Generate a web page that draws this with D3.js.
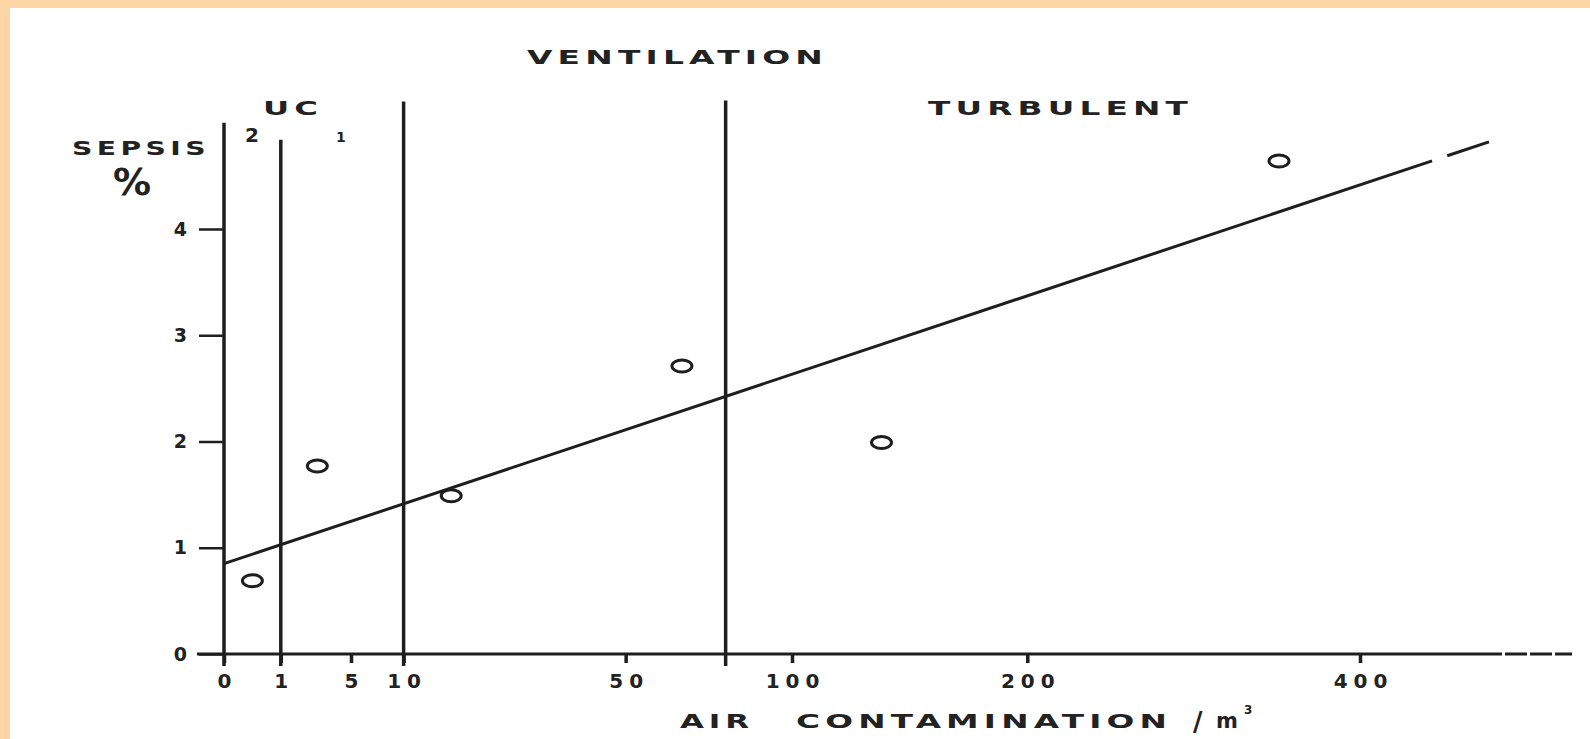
<!DOCTYPE html>
<html>
<head>
<meta charset="utf-8">
<script src="https://cdn.jsdelivr.net/npm/d3@7"></script>
<style>
  body { margin: 0; background: #fed6a6; overflow: hidden; }
  svg { display: block; }
  text { font-family: "DejaVu Sans", sans-serif; font-weight: bold; fill: #222; }
</style>
</head>
<body>
<script>
// values
var xTicks = [0, 1, 5, 10, 50, 100, 200, 400];
var yTicks = [0, 1, 2, 3, 4];
var zoneBounds = [0, 1, 10, 78];          // air count where each vertical line sits
var zoneTops = [5.0, 4.84, 5.2, 5.21];    // how high each line reaches (sepsis %)
var airCount = [0.25, 2.7, 16, 65, 134, 345];
var sepsisPct = [0.69, 1.77, 1.49, 2.71, 1.99, 4.64];
var trendX = [0, 496];
var trendY = [0.85, 4.82];

var W = 1590, H = 739;
var ink = "#1e1e1e";

var svg = d3.select("body").append("svg")
  .attr("width", W)
  .attr("height", H);

// white sheet, peach shows only on top and left
svg.append("rect")
  .attr("x", 10).attr("y", 8)
  .attr("width", W - 10).attr("height", H - 8)
  .attr("fill", "#ffffff");

var x = d3.scaleSqrt().domain([0, 400]).range([224, 1360]);
var y = d3.scaleLinear().domain([0, 4]).range([654, 229]);

// zone lines
svg.append("g").selectAll("line")
  .data(zoneBounds)
  .join("line")
  .attr("x1", d => x(d)).attr("x2", d => x(d))
  .attr("y1", (d, i) => y(zoneTops[i]))
  .attr("y2", y(0) + 12)
  .attr("stroke", ink)
  .attr("stroke-width", 3.5);

// x axis line, broken up a bit at the far end
svg.append("line")
  .attr("x1", x(0) - 27).attr("x2", 1480)
  .attr("y1", y(0)).attr("y2", y(0))
  .attr("stroke", ink).attr("stroke-width", 3);
svg.append("line")
  .attr("x1", 1480).attr("x2", 1572)
  .attr("y1", y(0)).attr("y2", y(0))
  .attr("stroke", ink).attr("stroke-width", 3)
  .attr("stroke-dasharray", "22 3");

var xAxis = svg.append("g")
  .attr("transform", "translate(0," + y(0) + ")")
  .call(d3.axisBottom(x).tickValues(xTicks).tickSize(9).tickFormat(d3.format("d")));
xAxis.select(".domain").remove();
xAxis.selectAll("line").attr("stroke", ink).attr("stroke-width", 3.5);
xAxis.selectAll("text")
  .attr("y", 20)
  .attr("font-size", 20)
  .attr("letter-spacing", 6)
  .attr("dx", 3)
  .attr("fill", ink);

var yAxis = svg.append("g")
  .attr("transform", "translate(" + x(0) + ",0)")
  .call(d3.axisLeft(y).tickValues(yTicks).tickSize(25).tickPadding(12)
    .tickFormat(d3.format("d")));
yAxis.select(".domain").remove();
yAxis.selectAll("line").attr("stroke", ink).attr("stroke-width", 2.5);
yAxis.selectAll("text").attr("font-size", 19).attr("fill", ink);

// fitted line, dashed at the end
var trend = trendX.map((d, i) => ({ x: d, y: trendY[i] }));
var tPath = svg.append("path")
  .datum(trend)
  .attr("d", d3.line().x(d => x(d.x)).y(d => y(d.y)))
  .attr("fill", "none")
  .attr("stroke", ink)
  .attr("stroke-width", 3);
var L = tPath.node().getTotalLength();
tPath.attr("stroke-dasharray", [L * 0.955, L * 0.012, L].join(" "));

// observations
svg.append("g").selectAll("ellipse")
  .data(airCount)
  .join("ellipse")
  .attr("cx", d => x(d))
  .attr("cy", (d, i) => y(sepsisPct[i]))
  .attr("rx", 10)
  .attr("ry", 6)
  .attr("fill", "none")
  .attr("stroke", ink)
  .attr("stroke-width", 3);

// labels: wide, heavy capitals stretched to the widths seen in the scan
function label(txt, x0, base, size, len) {
  var t = svg.append("text")
    .attr("x", x0).attr("y", base)
    .attr("font-size", size)
    .text(txt);
  if (len) t.attr("letter-spacing", 3)
    .attr("textLength", len).attr("lengthAdjust", "spacingAndGlyphs");
  return t;
}
label("VENTILATION", 527, 64, 19, 301);
label("UC", 263, 115, 19, 60);
label("TURBULENT", 928, 115, 19, 265);
label("2", 245, 142, 20);
label("1", 336, 142, 14);
label("SEPSIS", 72, 155, 19, 138);
label("%", 113, 195, 38).attr("font-weight", "normal");
label("AIR", 680, 728, 19, 74);
label("CONTAMINATION", 796, 728, 19, 376);
label("/", 1193, 731, 26).attr("font-weight", "normal");
label("m", 1216, 728, 21);
label("3", 1244, 714, 12);
</script>
</body>
</html>
